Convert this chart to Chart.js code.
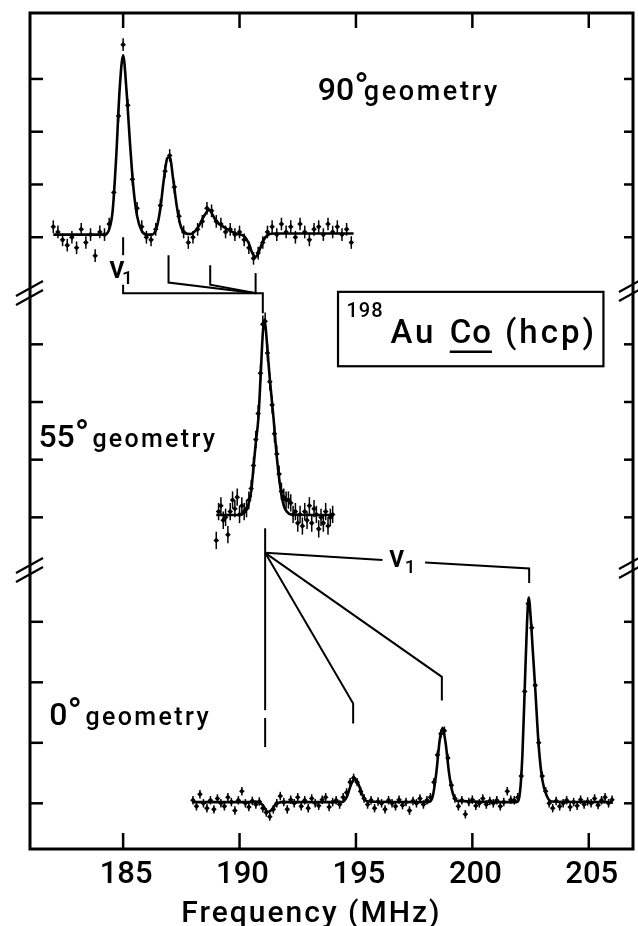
<!DOCTYPE html>
<html>
<head>
<meta charset="utf-8">
<script src="https://cdn.jsdelivr.net/npm/chart.js@4.4.1/dist/chart.umd.min.js"></script>
<style>
  html, body { margin: 0; padding: 0; background: #fff; }
</style>
</head>
<body>
<canvas id="chart" width="638" height="926"></canvas>
<script>
// axis ticks
const freqTicks = [185, 190, 195, 200, 205];
const panelTicks = [0, 1, 2, 3];

// 90 deg geometry: fitted curve + measured points
const fit90X = [182.0, 184.2, 184.4, 184.55, 184.7, 184.85, 185.0, 185.15, 185.3, 185.45, 185.6, 185.8, 186.0, 186.25, 186.45, 186.6, 186.75, 186.9, 187.0, 187.15, 187.3, 187.45, 187.65, 187.9, 188.1, 188.3, 188.5, 188.7, 188.85, 189.0, 189.3, 189.6, 189.9, 190.2, 190.4, 190.55, 190.7, 190.85, 191.0, 191.2, 191.5, 194.9];
const fit90Y = [0.05, 0.05, 0.15, 0.5, 1.5, 2.8, 3.45, 2.75, 1.75, 0.9, 0.4, 0.12, 0.05, 0.05, 0.2, 0.55, 1.1, 1.5, 1.52, 1.1, 0.6, 0.25, 0.08, 0.06, 0.12, 0.25, 0.42, 0.52, 0.42, 0.3, 0.2, 0.12, 0.06, 0.02, -0.12, -0.3, -0.37, -0.25, -0.08, 0.04, 0.07, 0.07];
const data90Start = 182.0, data90Step = 0.2;
const data90Y = [0.2, 0.1, -0.05, -0.15, 0.0, -0.2, 0.15, -0.1, 0.05, -0.35,
  0.1, 0.05, 0.25, 0.85, 2.3, 3.65, 2.5, 1.1, 0.55, 0.2,
  0.0, -0.05, 0.15, 0.6, 1.25, 1.55, 0.95, 0.4, 0.1, -0.1,
  0.0, 0.15, 0.3, 0.55, 0.5, 0.3, 0.25, 0.1, 0.15, 0.05,
  0.1, -0.05, -0.2, -0.4, -0.3, -0.1, 0.1, 0.2, 0.05, 0.25,
  0.1, 0.2, 0.0, 0.25, 0.1, -0.05, 0.15, 0.2, 0.05, 0.25,
  0.1, 0.2, 0.05, 0.15, -0.1];
const err90 = 0.12;

// 55 deg geometry
const fit55X = [189.0, 190.0, 190.2, 190.35, 190.5, 190.6, 190.7, 190.81, 190.9, 191.0, 191.06, 191.12, 191.2, 191.3, 191.46, 191.6, 191.71, 191.82, 191.92, 192.05, 192.2, 194.0];
const fit55Y = [0.04, 0.04, 0.08, 0.18, 0.45, 0.87, 1.3, 1.72, 2.4, 3.2, 3.43, 3.3, 2.9, 2.4, 1.72, 1.05, 0.65, 0.35, 0.18, 0.09, 0.05, 0.04];
const data55Start = 189.0, data55Step = 0.1;
const data55Y = [-0.4, 0.1, 0.2, -0.05, 0.0, -0.3, 0.1, 0.3, 0.15, 0.35,
  0.05, 0.2, 0.1, 0.15, 0.3, 0.5, 0.9, 1.35, 1.8, 2.5,
  3.35, 3.4, 2.85, 2.35, 1.95, 1.45, 1.1, 0.75, 0.45, 0.35,
  0.3, 0.3, 0.25, 0.05, 0.1, -0.1, 0.05, -0.15, 0.1, -0.05,
  0.2, -0.1, 0.15, 0.05, -0.2, 0.0, -0.1, 0.1, -0.15, 0.0,
  0.05];
const err55 = 0.15;

// 0 deg geometry
const fit0X = [188.0, 190.8, 191.0, 191.2, 191.35, 191.55, 191.8, 194.4, 194.6, 194.8, 194.95, 195.1, 195.3, 195.5, 198.1, 198.3, 198.45, 198.6, 198.72, 198.85, 199.0, 199.15, 199.35, 201.9, 202.05, 202.15, 202.25, 202.35, 202.42, 202.5, 202.6, 202.7, 202.85, 203.0, 203.2, 203.4, 206.0];
const fit0Y = [0.02, 0.02, -0.03, -0.14, -0.12, -0.02, 0.02, 0.02, 0.1, 0.32, 0.4, 0.32, 0.12, 0.03, 0.02, 0.12, 0.5, 1.05, 1.25, 1.0, 0.5, 0.18, 0.04, 0.02, 0.2, 0.8, 1.9, 3.0, 3.4, 3.1, 2.5, 1.9, 0.95, 0.4, 0.12, 0.03, 0.02];
const data0Start = 188.0, data0Step = 0.15;
const data0Y = [0.05, -0.05, 0.15, 0.0, -0.08, 0.05, -0.1, 0.08, 0.0, -0.05,
  0.1, 0.02, -0.12, 0.05, 0.2, 0.0, -0.06, 0.04, -0.02, 0.03,
  -0.08, -0.15, -0.22, -0.1, 0.0, 0.12, 0.02, -0.1, 0.06, 0.0,
  0.1, -0.05, 0.05, -0.08, 0.08, 0.0, -0.04, 0.06, 0.1, -0.06,
  0.02, 0.05, -0.02, 0.1, 0.18, 0.35, 0.42, 0.35, 0.2, 0.08,
  -0.02, 0.05, -0.08, 0.03, 0.0, -0.1, 0.05, 0.0, -0.05, 0.06,
  -0.03, 0.02, -0.12, 0.04, 0.0, 0.08, -0.02, 0.05, 0.1, 0.35,
  0.8, 1.15, 1.2, 0.75, 0.3, 0.08, -0.05, 0.05, -0.18, 0.02,
  0.06, -0.04, 0.0, 0.08, -0.02, 0.04, 0.0, 0.05, -0.05, 0.02,
  0.2, 0.06, 0.05, 0.1, 0.45, 1.85, 3.3, 2.9, 1.95, 1.0,
  0.45, 0.2, 0.0, -0.08, 0.04, -0.05, 0.0, 0.05, -0.06, 0.02,
  -0.04, 0.06, -0.02, 0.03, 0.0, 0.08, -0.03, 0.05, 0.1, 0.0,
  0.06];
const err0 = 0.07;

const pairs = (xs, ys) => xs.map((x, i) => ({ x, y: ys[i] }));
const grid = (start, step, ys) => ys.map((y, i) => ({ x: Math.round((start + i * step) * 100) / 100, y }));

const FONT = 'Roboto, "Liberation Sans", Arial, sans-serif';

function fitSet(data, axis) {
  return {
    type: 'line', data, yAxisID: axis, borderColor: '#000', borderWidth: 2.6,
    pointRadius: 0, cubicInterpolationMode: 'monotone', fill: false,
  };
}
function pointSet(data, axis, err) {
  return {
    type: 'line', data, yAxisID: axis, showLine: false, errorBar: err,
    pointStyle: 'rectRot', pointRadius: 2.8, backgroundColor: '#000', borderColor: '#000', borderWidth: 0,
  };
}

// error bars on measured points
const errorBars = {
  id: 'errorBars',
  beforeDatasetsDraw(chart) {
    const { ctx } = chart;
    ctx.save();
    ctx.strokeStyle = '#000';
    ctx.lineWidth = 1.5;
    chart.data.datasets.forEach((ds, i) => {
      if (!ds.errorBar) return;
      const sc = chart.scales[ds.yAxisID];
      chart.getDatasetMeta(i).data.forEach((pt, j) => {
        const v = ds.data[j].y;
        ctx.beginPath();
        ctx.moveTo(pt.x, sc.getPixelForValue(v - ds.errorBar));
        ctx.lineTo(pt.x, sc.getPixelForValue(v + ds.errorBar));
        ctx.stroke();
      });
    });
    ctx.restore();
  },
};

// frame, inward ticks, axis breaks, annotations and labels
const decor = {
  id: 'decor',
  afterDraw(chart) {
    const { ctx, chartArea: a, scales } = chart;
    const X = v => scales.x.getPixelForValue(v);
    const Y = (id, v) => scales[id].getPixelForValue(v);
    const line = pts => {
      ctx.beginPath();
      pts.forEach((p, i) => (i ? ctx.lineTo(p[0], p[1]) : ctx.moveTo(p[0], p[1])));
      ctx.stroke();
    };
    const txt = (s, x, y, size, spacing, align) => {
      ctx.font = '500 ' + size + 'px ' + FONT;
      ctx.letterSpacing = (spacing || 0) + 'px';
      ctx.textAlign = align || 'left';
      ctx.textBaseline = 'alphabetic';
      ctx.fillText(s, x, y);
      return ctx.measureText(s).width;
    };
    const angle = (deg, x, y, gx) => {
      const w = txt(deg, x, y, 32, 0);
      txt('\u00B0', x + w, y, 38, 0);
      return gx;
    };

    ctx.save();
    ctx.strokeStyle = '#000';
    ctx.fillStyle = '#000';
    ctx.lineCap = 'butt';

    ctx.lineWidth = 3;
    ctx.strokeRect(a.left, a.top, a.right - a.left, a.bottom - a.top);

    ctx.lineWidth = 2.5;
    freqTicks.forEach(v => {
      line([[X(v), a.top], [X(v), a.top + 15]]);
      line([[X(v), a.bottom], [X(v), a.bottom - 16]]);
    });
    ['yTop', 'yMid', 'yBot'].forEach(id => panelTicks.forEach(v => {
      line([[a.left, Y(id, v)], [a.left + 13, Y(id, v)]]);
      line([[a.right - 9, Y(id, v)], [a.right, Y(id, v)]]);
    }));

    // axis breaks between panels
    ctx.lineWidth = 2.2;
    const brk = (cx, cy) => {
      line([[cx - 14, cy + 3], [cx + 13, cy - 12]]);
      line([[cx - 14, cy + 12], [cx + 13, cy - 3]]);
    };
    [scales.yTop.bottom, scales.yMid.bottom].forEach(y => {
      brk(a.left, y);
      brk(a.right, y - 4);
    });

    // component markers
    ctx.lineWidth = 2;
    line([[X(185.0), Y('yTop', 0.0)], [X(185.0), Y('yTop', -0.34)]]);
    line([[X(185.0), Y('yTop', -0.9)], [X(185.0), Y('yTop', -1.06)], [X(191.0), Y('yTop', -1.06)], [X(191.0), Y('yMid', 3.54)]]);
    line([[X(186.95), Y('yTop', -0.34)], [X(186.95), Y('yTop', -0.86)], [X(190.72), Y('yTop', -1.06)]]);
    line([[X(188.74), Y('yTop', -0.53)], [X(188.74), Y('yTop', -0.9)], [X(190.72), Y('yTop', -1.06)]]);
    line([[X(190.69), Y('yTop', -0.68)], [X(190.69), Y('yTop', -1.06)]]);

    line([[X(191.1), Y('yMid', -0.19)], [X(191.1), Y('yBot', 1.54)]]);
    line([[X(191.1), Y('yBot', 1.41)], [X(191.1), Y('yBot', 0.93)]]);
    line([[X(191.1), Y('yBot', 4.14)], [X(194.88), Y('yBot', 1.65)], [X(194.88), Y('yBot', 1.32)]]);
    line([[X(191.1), Y('yBot', 4.14)], [X(198.69), Y('yBot', 2.09)], [X(198.69), Y('yBot', 1.70)]]);
    line([[X(191.1), Y('yBot', 4.14)], [X(196.14), Y('yBot', 4.02)]]);
    line([[X(197.97), Y('yBot', 3.98)], [X(202.44), Y('yBot', 3.88)], [X(202.44), Y('yBot', 3.64)]]);

    txt('\u03BD', X(184.4), Y('yTop', -0.78), 31);
    txt('1', X(184.95), Y('yTop', -0.88), 19);
    txt('\u03BD', X(196.42), Y('yBot', 3.9), 31);
    txt('1', X(197.1), Y('yBot', 3.8), 19);

    // geometry labels
    angle('90', X(193.36), Y('yTop', 2.605));
    txt('geometry', X(195.34), Y('yTop', 2.605), 27, 2.6);
    angle('55', X(181.36), Y('yMid', 1.224));
    txt('geometry', X(183.68), Y('yMid', 1.224), 25, 2.3);
    angle('0', X(181.83), Y('yBot', 1.294));
    txt('geometry', X(183.38), Y('yBot', 1.294), 25, 2.4);

    // sample box
    ctx.lineWidth = 2.2;
    ctx.strokeRect(X(194.23), Y('yMid', 3.91), X(205.63) - X(194.23), Y('yMid', 2.62) - Y('yMid', 3.91));
    txt('198', X(194.59), Y('yMid', 3.47), 20, 1);
    txt('Au', X(196.48), Y('yMid', 3.02), 33, 3);
    txt('Co', X(199.03), Y('yMid', 3.02), 33, 1);
    txt('(hcp)', X(201.4), Y('yMid', 3.02), 33, 3);
    ctx.lineWidth = 2.5;
    line([[X(199.03), Y('yMid', 2.87)], [X(200.84), Y('yMid', 2.87)]]);

    // x axis labels
    freqTicks.forEach(v => txt(String(v), X(v) + 3, a.bottom + 34, 31, 0, 'center'));
    txt('Frequency (MHz)', X(187.5), a.bottom + 73, 30, 2);

    ctx.restore();
  },
};

new Chart(document.getElementById('chart'), {
  type: 'line',
  data: {
    datasets: [
      fitSet(pairs(fit90X, fit90Y), 'yTop'),
      pointSet(grid(data90Start, data90Step, data90Y), 'yTop', err90),
      fitSet(pairs(fit55X, fit55Y), 'yMid'),
      pointSet(grid(data55Start, data55Step, data55Y), 'yMid', err55),
      fitSet(pairs(fit0X, fit0Y), 'yBot'),
      pointSet(grid(data0Start, data0Step, data0Y), 'yBot', err0),
    ],
  },
  options: {
    responsive: false,
    animation: false,
    layout: { padding: { left: 30, right: 5, top: 13, bottom: 77 } },
    plugins: { legend: { display: false }, tooltip: { enabled: false } },
    scales: {
      x: { type: 'linear', display: false, min: 181, max: 206.9 },
      yTop: { type: 'linear', display: false, position: 'left', stack: 'panels', stackWeight: 280, weight: 3, min: -1.057, max: 4.25 },
      yMid: { type: 'linear', display: false, position: 'left', stack: 'panels', stackWeight: 277, weight: 2, min: -0.913, max: 3.89 },
      yBot: { type: 'linear', display: false, position: 'left', stack: 'panels', stackWeight: 279, weight: 1, min: -0.755, max: 3.856 },
    },
  },
  plugins: [errorBars, decor],
});
</script>
</body>
</html>
